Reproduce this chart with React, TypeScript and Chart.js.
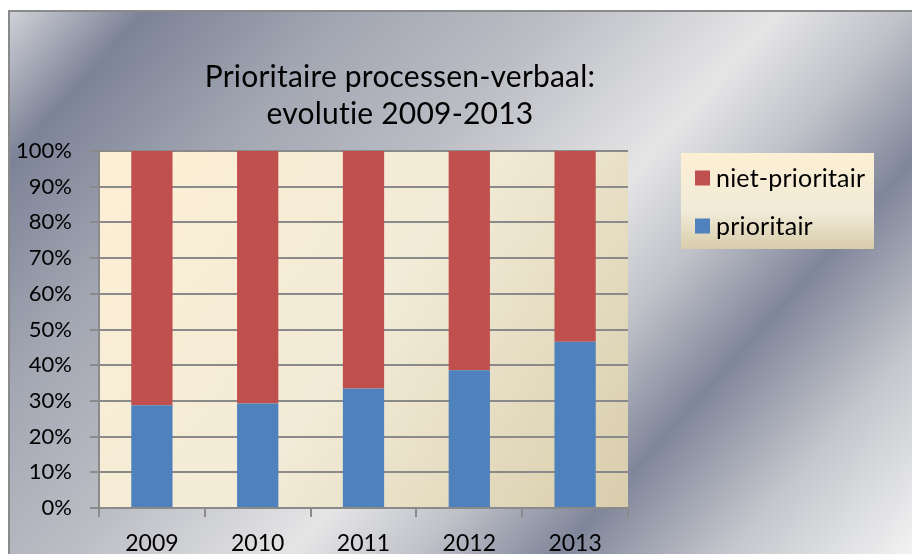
import React, { useEffect, useRef } from "react";
import { Chart, registerables } from "chart.js";

Chart.register(...registerables);

// ---- data ----
const categories = ["2009", "2010", "2011", "2012", "2013"];
const prioritair = [28.8, 29.3, 33.5, 38.6, 46.6];
const nietPrioritair = [71.2, 70.7, 66.5, 61.4, 53.4];
const seriesNames = ["prioritair", "niet-prioritair"];
const seriesColors = ["#4F81BD", "#C0504D"];
const titleLines = ["Prioritaire processen-verbaal:", "evolutie 2009-2013"];
const yMax = 100;
const yStep = 10;

const FONT = "Lato, 'Open Sans', sans-serif";

const decorPlugin = {
  id: "decor",
  beforeDraw(chart: any) {
    const { ctx, width, height, chartArea } = chart;
    ctx.save();
    ctx.fillStyle = "#ffffff";
    ctx.fillRect(0, 0, width, height);
    // metallic frame background
    const g = ctx.createLinearGradient(0, 0, 779, 701);
    g.addColorStop(0, "#dcdde1");
    g.addColorStop(0.11, "#7d8397");
    g.addColorStop(0.25, "#a2a6b2");
    g.addColorStop(0.4, "#bbbdc4");
    g.addColorStop(0.56, "#e5e5e6");
    g.addColorStop(0.65, "#c0c2c9");
    g.addColorStop(0.75, "#80869a");
    g.addColorStop(0.87, "#c5c7cd");
    g.addColorStop(1, "#f2f2f2");
    ctx.fillStyle = g;
    ctx.fillRect(9, 11, width, height);
    ctx.strokeStyle = "#8a8a8a";
    ctx.lineWidth = 2;
    ctx.beginPath();
    ctx.moveTo(9, height + 2);
    ctx.lineTo(9, 11);
    ctx.lineTo(width + 2, 11);
    ctx.stroke();

    // plot area background
    const pg = ctx.createLinearGradient(chartArea.left, chartArea.top, chartArea.right, chartArea.bottom);
    pg.addColorStop(0, "#fdefd4");
    pg.addColorStop(0.5, "#f2ebd7");
    pg.addColorStop(1, "#d8cdab");
    ctx.fillStyle = pg;
    ctx.fillRect(chartArea.left, chartArea.top, chartArea.right - chartArea.left, chartArea.bottom - chartArea.top);

    // title
    ctx.fillStyle = "#000";
    ctx.font = `30px ${FONT}`;
    try { (ctx as any).letterSpacing = "0.2px"; } catch (e) {}
    ctx.textAlign = "center";
    ctx.textBaseline = "middle";
    const cx = 400;
    ctx.fillText(titleLines[0], cx, 77);
    ctx.fillText(titleLines[1], cx, 114);

    // legend box
    const lx = chartArea.right + 53;
    const ly = chartArea.top + 2;
    const lw = 193;
    const lh = 96;
    const lg = ctx.createLinearGradient(0, ly, 0, ly + lh);
    lg.addColorStop(0, "#fdefd4");
    lg.addColorStop(0.6, "#f1ebd8");
    lg.addColorStop(1, "#d8cdab");
    ctx.fillStyle = lg;
    ctx.fillRect(lx, ly, lw, lh);

    const ds = chart.data.datasets;
    ctx.textAlign = "left";
    ctx.font = `25px ${FONT}`;
    for (let i = 0; i < ds.length; i++) {
      const d = ds[ds.length - 1 - i];
      const yc = ly + 25 + i * 48;
      ctx.fillStyle = d.backgroundColor;
      ctx.fillRect(lx + 14, yc - 7.5, 15, 15);
      ctx.fillStyle = "#000";
      ctx.fillText(d.label, lx + 35, yc + 1);
    }
    ctx.restore();
  },
};

export default function App() {
  const ref = useRef<HTMLCanvasElement | null>(null);
  useEffect(() => {
    if (!ref.current) return;
    const chart = new Chart(ref.current, {
      type: "bar",
      data: {
        labels: categories,
        datasets: [
          { label: seriesNames[0], data: prioritair, backgroundColor: seriesColors[0], borderWidth: 0 },
          { label: seriesNames[1], data: nietPrioritair, backgroundColor: seriesColors[1], borderWidth: 0 },
        ],
      },
      options: {
        animation: false,
        responsive: false,
        maintainAspectRatio: false,
        layout: { padding: { left: 0, top: 151, right: 284, bottom: 0 } },
        datasets: { bar: { categoryPercentage: 1, barPercentage: 0.39 } },
        plugins: {
          legend: { display: false },
          title: { display: false },
          tooltip: { enabled: false },
        },
        scales: {
          x: {
            stacked: true,
            afterFit: (s: any) => { s.height = 46; },
            grid: { offset: true, drawOnChartArea: false, drawTicks: true, tickLength: 9, color: "#8a8a8a", lineWidth: 2 },
            border: { display: true, color: "#8a8a8a", width: 2 },
            ticks: { color: "#000", font: { family: FONT, size: 23 }, padding: 13, maxRotation: 0 },
          },
          y: {
            stacked: true,
            min: 0,
            max: yMax,
            afterFit: (s: any) => { s.width = 99; },
            grid: { color: "#8a8a8a", lineWidth: 2, drawTicks: true, tickLength: 9 },
            border: { display: true, color: "#8a8a8a", width: 2 },
            ticks: {
              stepSize: yStep,
              color: "#000",
              font: { family: FONT, size: 22 },
              padding: 18,
              callback: (v: any) => `${v}%`,
            },
          },
        },
      },
      plugins: [decorPlugin],
    });
    return () => chart.destroy();
  }, []);
  return (
    <div style={{ position: "absolute", left: 0, top: 0, width: 912, height: 554 }}>
      <canvas ref={ref} width={912} height={554} style={{ display: "block", width: 912, height: 554 }} />
    </div>
  );
}
